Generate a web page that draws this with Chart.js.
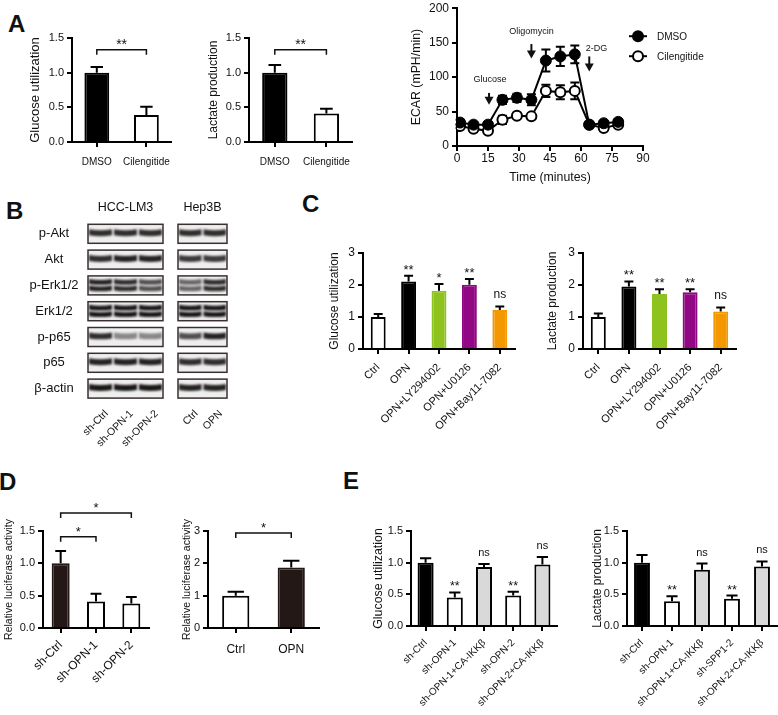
<!DOCTYPE html>
<html>
<head>
<meta charset="utf-8">
<script src="https://cdn.jsdelivr.net/npm/chart.js@4.4.1/dist/chart.umd.min.js"></script>
<style>
  html, body { margin: 0; padding: 0; background: #fff; }
  body { position: relative; width: 778px; height: 715px; overflow: hidden; font-family: 'Liberation Sans', Arial, sans-serif; color: #111; }
  canvas { position: absolute; }
  .tag { position: absolute; font-size: 24px; font-weight: bold; line-height: 1; }
</style>
</head>
<body>
<div class="tag" style="left:8px;top:12px">A</div>
<div class="tag" style="left:6px;top:199px">B</div>
<div class="tag" style="left:302px;top:192px">C</div>
<div class="tag" style="left:-1px;top:470px">D</div>
<div class="tag" style="left:343px;top:469px">E</div>

<canvas id="glucoseA" width="158" height="152" style="left:22px;top:20px"></canvas>
<canvas id="lactateA" width="161" height="152" style="left:199px;top:20px"></canvas>
<canvas id="ecar" width="378" height="192" style="left:400px;top:-2px"></canvas>
<canvas id="blot" width="300" height="280" style="left:0;top:190px"></canvas>
<canvas id="glucoseC" width="202" height="200" style="left:318px;top:240px"></canvas>
<canvas id="lactateC" width="205" height="200" style="left:536px;top:240px"></canvas>
<canvas id="lucD1" width="154" height="200" style="left:0;top:490px"></canvas>
<canvas id="lucD2" width="152" height="200" style="left:172px;top:490px"></canvas>
<canvas id="glucoseE" width="200" height="215" style="left:362px;top:500px"></canvas>
<canvas id="lactateE" width="196" height="215" style="left:582px;top:500px"></canvas>

<script>
// panel A
const aGroups = ['DMSO', 'Cilengitide'];
const glucoseA = [1.0, 0.39];
const glucoseAErr = [0.08, 0.12];
const lactateA = [1.0, 0.41];
const lactateAErr = [0.11, 0.07];

const ecarTime = [1.5, 8, 15, 22, 29, 36, 43, 50, 57, 64, 71, 78];
const ecarDmso = [34, 31, 31, 67, 70, 67, 124, 130, 133, 31, 33, 35];
const ecarDmsoErr = [4, 3, 3, 6, 6, 8, 16, 14, 13, 3, 3, 3];
const ecarCil = [29, 25, 22, 38, 44, 43, 80, 78, 80, 31, 26, 31];
const ecarCilErr = [3, 3, 3, 6, 3, 3, 9, 10, 12, 3, 3, 3];

// panel B
const blotRows = ['p-Akt', 'Akt', 'p-Erk1/2', 'Erk1/2', 'p-p65', 'p65', 'β-actin'];
const blotLanes = ['sh-Ctrl', 'sh-OPN-1', 'sh-OPN-2', 'Ctrl', 'OPN'];
const bandLevel = [
    [0.85, 0.85, 0.85, 0.85, 0.85],
    [0.85, 0.9, 0.9, 0.8, 0.8],
    [0.9, 0.85, 0.7, 0.6, 0.85],
    [0.95, 0.95, 0.95, 0.95, 0.95],
    [0.85, 0.45, 0.45, 0.7, 0.9],
    [0.9, 0.9, 0.9, 0.85, 0.85],
    [0.95, 0.95, 0.95, 0.9, 0.9]
];
const doubleBand = [false, false, true, true, false, false, false];

// panel C
const cGroups = ['Ctrl', 'OPN', 'OPN+LY294002', 'OPN+U0126', 'OPN+Bay11-7082'];
const glucoseC = [1.0, 2.11, 1.82, 2.01, 1.22];
const glucoseCErr = [0.09, 0.18, 0.21, 0.18, 0.11];
const lactateC = [1.0, 1.95, 1.72, 1.77, 1.17];
const lactateCErr = [0.11, 0.16, 0.15, 0.1, 0.13];
const sigCGlucose = ['', '**', '*', '**', 'ns'];
const sigCLactate = ['', '**', '**', '**', 'ns'];

// panel D
const dGroups1 = ['sh-Ctrl', 'sh-OPN-1', 'sh-OPN-2'];
const lucD1 = [1.0, 0.41, 0.38];
const lucD1Err = [0.19, 0.12, 0.1];
const dGroups2 = ['Ctrl', 'OPN'];
const lucD2 = [1.0, 1.87];
const lucD2Err = [0.12, 0.21];

// panel E
const eGroups1 = ['sh-Ctrl', 'sh-OPN-1', 'sh-OPN-1+CA-IKKβ', 'sh-OPN-2', 'sh-OPN-2+CA-IKKβ'];
const glucoseE = [1.0, 0.45, 0.93, 0.48, 0.97];
const glucoseEErr = [0.07, 0.08, 0.05, 0.06, 0.12];
const eGroups2 = ['sh-Ctrl', 'sh-OPN-1', 'sh-OPN-1+CA-IKKβ', 'sh-SPP1-2', 'sh-OPN-2+CA-IKKβ'];
const lactateE = [1.0, 0.39, 0.89, 0.43, 0.94];
const lactateEErr = [0.12, 0.08, 0.095, 0.05, 0.08];
const sigE = ['', '**', 'ns', '**', 'ns'];

const FONT = "'Liberation Sans', Arial, sans-serif";
Chart.defaults.font.family = FONT;
Chart.defaults.color = '#111';

// error bars: only up for bars, both ways for the ECAR curve
function drawErrors(chart, both) {
    const ctx = chart.ctx;
    const y = chart.scales.y;
    chart.data.datasets.forEach((ds, i) => {
        if (!ds.errors) return;
        const meta = chart.getDatasetMeta(i);
        ctx.save();
        ctx.strokeStyle = '#000';
        ctx.lineWidth = 2;
        meta.data.forEach((el, j) => {
            const v = typeof ds.data[j] === 'object' ? ds.data[j].y : ds.data[j];
            const e = ds.errors[j];
            const hi = y.getPixelForValue(v + e);
            const lo = y.getPixelForValue(both ? v - e : v);
            const cap = both ? 4.5 : el.width * (ds.capRatio || 0.6) / 2;
            ctx.beginPath();
            ctx.moveTo(el.x, lo);
            ctx.lineTo(el.x, hi);
            ctx.moveTo(el.x - cap, hi);
            ctx.lineTo(el.x + cap, hi);
            if (both) {
                ctx.moveTo(el.x - cap, lo);
                ctx.lineTo(el.x + cap, lo);
            }
            ctx.stroke();
        });
        ctx.restore();
    });
}

const errorBars = {
    id: 'errorBars',
    beforeDatasetsDraw(chart) { if (chart.config.type === 'line') drawErrors(chart, true); },
    afterDatasetsDraw(chart) { if (chart.config.type === 'bar') drawErrors(chart, false); }
};

// stars, ns and brackets
const sigMarks = {
    id: 'sigMarks',
    afterDatasetsDraw(chart) {
        const ds = chart.data.datasets[0];
        if (!ds.sig && !ds.brackets) return;
        const ctx = chart.ctx;
        const y = chart.scales.y;
        const bars = chart.getDatasetMeta(0).data;
        ctx.save();
        ctx.fillStyle = '#111';
        ctx.strokeStyle = '#111';
        ctx.lineWidth = 1.5;
        ctx.textAlign = 'center';
        ctx.textBaseline = 'alphabetic';
        (ds.sig || []).forEach((t, j) => {
            if (!t) return;
            const top = y.getPixelForValue(ds.data[j] + ds.errors[j]);
            const star = t.includes('*');
            ctx.font = star ? ds.sigFont : ds.nsFont;
            ctx.fillText(t, bars[j].x, top - (star ? 2 : 8));
        });
        ctx.font = ds.sigFont;
        (ds.brackets || []).forEach(b => {
            const x1 = bars[b.from].x;
            const x2 = bars[b.to].x;
            const yy = y.getPixelForValue(b.level);
            ctx.beginPath();
            ctx.moveTo(x1, yy + 5);
            ctx.lineTo(x1, yy);
            ctx.lineTo(x2, yy);
            ctx.lineTo(x2, yy + 5);
            ctx.stroke();
            ctx.fillText(b.text, (x1 + x2) / 2, yy - 1);
        });
        ctx.restore();
    }
};

function axisY(max, step, decimals, title, titleSize, titlePad, width, tickSize) {
    return {
        min: 0,
        max: max,
        border: { color: '#000', width: 2 },
        grid: { drawOnChartArea: false, color: '#000', lineWidth: 2, tickLength: 5 },
        ticks: { stepSize: step, font: { size: tickSize || 11 }, padding: 3, callback: v => v.toFixed(decimals) },
        title: { display: true, text: title, font: { size: titleSize }, padding: { top: titlePad, bottom: 0 } },
        afterFit: s => { s.width = width; }
    };
}

function axisX(rot, size, pad, height) {
    return {
        border: { color: '#000', width: 2 },
        grid: { drawOnChartArea: false, offset: false, color: '#000', lineWidth: 2, tickLength: 5 },
        ticks: { font: { size: size }, minRotation: rot, maxRotation: rot, autoSkip: false, padding: pad },
        afterFit: s => { s.height = height; }
    };
}

function barChart(id, labels, values, errors, fills, edges, cfg) {
    return new Chart(document.getElementById(id), {
        type: 'bar',
        data: {
            labels: labels,
            datasets: [{
                data: values,
                errors: errors,
                sig: cfg.sig,
                brackets: cfg.brackets,
                sigFont: cfg.sigFont,
                nsFont: cfg.nsFont || cfg.sigFont,
                capRatio: cfg.cap,
                backgroundColor: fills,
                borderColor: edges,
                borderWidth: 2,
                barPercentage: cfg.bar,
                categoryPercentage: 1
            }]
        },
        options: {
            responsive: false,
            animation: false,
            layout: { padding: { top: cfg.top, right: cfg.right, left: 0, bottom: 0 } },
            plugins: { legend: { display: false }, tooltip: { enabled: false } },
            scales: { x: cfg.x, y: cfg.y }
        },
        plugins: [errorBars, sigMarks]
    });
}

// A
barChart('glucoseA', aGroups, glucoseA, glucoseAErr, ['#000', '#fff'], ['#000', '#000'], {
    bar: 0.5, cap: 0.5, top: 18, right: 5,
    x: axisX(0, 10, 9, 30),
    y: axisY(1.5, 0.5, 1, 'Glucose utilization', 13, 6, 50),
    brackets: [{ from: 0, to: 1, level: 1.33, text: '**' }],
    sigFont: '14px ' + FONT
});
barChart('lactateA', aGroups, lactateA, lactateAErr, ['#000', '#fff'], ['#000', '#000'], {
    bar: 0.49, cap: 0.5, top: 18, right: 5,
    x: axisX(0, 10, 9, 30),
    y: axisY(1.5, 0.5, 1, 'Lactate production', 12, 7, 50),
    brackets: [{ from: 0, to: 1, level: 1.33, text: '**' }],
    sigFont: '14px ' + FONT
});

const injections = [
    { name: 'Glucose', t: 15.5, from: 77, to: 60, labelT: 16, labelY: 96 },
    { name: 'Oligomycin', t: 36, from: 148, to: 127, labelT: 36, labelY: 166 },
    { name: '2-DG', t: 64, from: 130, to: 108, labelT: 67.5, labelY: 141 }
];

const ecarNotes = {
    id: 'ecarNotes',
    afterDatasetsDraw(chart) {
        const ctx = chart.ctx;
        const x = chart.scales.x;
        const y = chart.scales.y;
        const area = chart.chartArea;
        ctx.save();
        ctx.fillStyle = '#111';
        ctx.strokeStyle = '#111';
        ctx.lineWidth = 2;
        ctx.textAlign = 'center';
        ctx.textBaseline = 'middle';
        ctx.font = '9px ' + FONT;
        injections.forEach(inj => {
            const px = x.getPixelForValue(inj.t);
            const y1 = y.getPixelForValue(inj.from);
            const y2 = y.getPixelForValue(inj.to);
            ctx.beginPath();
            ctx.moveTo(px, y1);
            ctx.lineTo(px, y2 - 6);
            ctx.stroke();
            ctx.beginPath();
            ctx.moveTo(px - 4.5, y2 - 8);
            ctx.lineTo(px + 4.5, y2 - 8);
            ctx.lineTo(px, y2);
            ctx.closePath();
            ctx.fill();
            ctx.fillText(inj.name, x.getPixelForValue(inj.labelT), y.getPixelForValue(inj.labelY));
        });
        // legend
        ctx.font = '10px ' + FONT;
        ctx.textAlign = 'left';
        chart.data.datasets.forEach((ds, i) => {
            const ly = area.top + 28 + i * 20;
            const lx = area.right - 5;
            ctx.strokeStyle = '#000';
            ctx.lineWidth = 2;
            ctx.beginPath();
            ctx.moveTo(lx - 9, ly);
            ctx.lineTo(lx + 9, ly);
            ctx.stroke();
            ctx.beginPath();
            ctx.arc(lx, ly, 5, 0, Math.PI * 2);
            ctx.fillStyle = ds.pointBackgroundColor;
            ctx.fill();
            ctx.stroke();
            ctx.fillStyle = '#111';
            ctx.fillText(ds.label, lx + 19, ly + 1);
        });
        ctx.restore();
    }
};

new Chart(document.getElementById('ecar'), {
    type: 'line',
    data: {
        datasets: [{
            label: 'DMSO',
            data: ecarTime.map((t, i) => ({ x: t, y: ecarDmso[i] })),
            errors: ecarDmsoErr,
            borderColor: '#000',
            borderWidth: 2,
            pointRadius: 5.5,
            pointBackgroundColor: '#000',
            pointBorderColor: '#000',
            pointBorderWidth: 1
        }, {
            label: 'Cilengitide',
            data: ecarTime.map((t, i) => ({ x: t, y: ecarCil[i] })),
            errors: ecarCilErr,
            borderColor: '#000',
            borderWidth: 2,
            pointRadius: 5,
            pointBackgroundColor: '#fff',
            pointBorderColor: '#000',
            pointBorderWidth: 2
        }]
    },
    options: {
        responsive: false,
        animation: false,
        layout: { padding: { top: 8, right: 135, left: 0, bottom: 0 } },
        plugins: { legend: { display: false }, tooltip: { enabled: false } },
        scales: {
            x: {
                type: 'linear',
                min: 0,
                max: 90,
                border: { color: '#000', width: 2 },
                grid: { drawOnChartArea: false, color: '#000', lineWidth: 2, tickLength: 5 },
                ticks: { stepSize: 15, font: { size: 12 }, padding: 0 },
                title: { display: true, text: 'Time (minutes)', font: { size: 12.3 }, padding: { top: 0, bottom: 5.5 } },
                afterFit: s => { s.height = 44; }
            },
            y: {
                min: 0,
                max: 200,
                border: { color: '#000', width: 2 },
                grid: { drawOnChartArea: false, color: '#000', lineWidth: 2, tickLength: 5 },
                ticks: { stepSize: 50, font: { size: 12 }, padding: 3 },
                title: { display: true, text: 'ECAR (mPH/min)', font: { size: 12.3 }, padding: { top: 9.5, bottom: 0 } },
                afterFit: s => { s.width = 57; }
            }
        }
    },
    plugins: [errorBars, ecarNotes]
});

// B: blot picture
const bc = document.getElementById('blot').getContext('2d');
const blotBoxes = [
    { x: 88, w: 75, lanes: [0, 1, 2], name: 'HCC-LM3' },
    { x: 178, w: 49, lanes: [3, 4], name: 'Hep3B' }
];
bc.fillStyle = '#111';
bc.textAlign = 'center';
bc.textBaseline = 'middle';
bc.font = '12.5px ' + FONT;
blotBoxes.forEach(b => bc.fillText(b.name, b.x + b.w / 2, 18));

function band(cx, cy, w, h, level) {
    bc.save();
    bc.filter = 'blur(1px)';
    bc.fillStyle = 'rgba(15,12,12,' + level + ')';
    bc.beginPath();
    bc.moveTo(cx - w / 2, cy - h / 2 - 0.5);
    bc.quadraticCurveTo(cx, cy - h / 2 + 1.5, cx + w / 2, cy - h / 2 - 0.5);
    bc.lineTo(cx + w / 2, cy + h / 2 - 0.5);
    bc.quadraticCurveTo(cx, cy + h / 2 + 1.2, cx - w / 2, cy + h / 2 - 0.5);
    bc.closePath();
    bc.fill();
    bc.restore();
}

const laneX = [];
blotRows.forEach((name, r) => {
    const top = 34.3 + r * 25.8;
    bc.fillStyle = '#111';
    bc.font = '13px ' + FONT;
    bc.fillText(name, 54, top + 9.5);
    blotBoxes.forEach(b => {
        bc.fillStyle = '#eeeeee';
        bc.fillRect(b.x, top, b.w, 19);
        const lw = b.w / b.lanes.length;
        b.lanes.forEach((lane, k) => {
            const cx = b.x + lw * (k + 0.5);
            laneX[lane] = cx;
            const lvl = bandLevel[r][lane];
            if (doubleBand[r]) {
                band(cx, top + 6, lw - 2, 5, lvl);
                band(cx, top + 12.5, lw - 2, 5, lvl);
            } else {
                band(cx, top + 8.5, lw - 2, 6, lvl);
            }
        });
        bc.strokeStyle = '#3a3030';
        bc.lineWidth = 1.5;
        bc.strokeRect(b.x, top, b.w, 19);
    });
});

bc.fillStyle = '#111';
bc.font = '10.5px ' + FONT;
bc.textAlign = 'right';
blotLanes.forEach((name, i) => {
    bc.save();
    bc.translate(laneX[i] + 6, 222);
    bc.rotate(-Math.PI / 4);
    bc.fillText(name, 0, 0);
    bc.restore();
});

// C
const cFills = ['#ffffff', '#000000', '#8dc21f', '#920783', '#f39800'];
const cEdges = ['#000000', '#000000', '#8dc21f', '#920783', '#f39800'];
barChart('glucoseC', cGroups, glucoseC, glucoseCErr, cFills, cEdges, {
    bar: 0.49, cap: 0.6, top: 13, right: 5,
    x: axisX(45, 11, 7, 91),
    y: axisY(3, 1, 0, 'Glucose utilization', 12, 9.8, 45, 12),
    sig: sigCGlucose,
    sigFont: '13px ' + FONT,
    nsFont: '12px ' + FONT
});
barChart('lactateC', cGroups, lactateC, lactateCErr, cFills, cEdges, {
    bar: 0.49, cap: 0.6, top: 13, right: 5,
    x: axisX(45, 11, 7, 91),
    y: axisY(3, 1, 0, 'Lactate production', 12, 9.8, 47, 12),
    sig: sigCLactate,
    sigFont: '13px ' + FONT,
    nsFont: '12px ' + FONT
});

// D
barChart('lucD1', dGroups1, lucD1, lucD1Err, ['#231815', '#fff', '#fff'], ['#231815', '#000', '#000'], {
    bar: 0.51, cap: 0.6, top: 41, right: 5,
    x: axisX(45, 12, 5, 62),
    y: axisY(1.5, 0.5, 1, 'Relative luciferase activity', 10.5, 2.7, 43),
    brackets: [{ from: 0, to: 1, level: 1.41, text: '*' }, { from: 0, to: 2, level: 1.78, text: '*' }],
    sigFont: '13px ' + FONT
});
barChart('lucD2', dGroups2, lucD2, lucD2Err, ['#fff', '#231815'], ['#000', '#231815'], {
    bar: 0.49, cap: 0.6, top: 41, right: 5,
    x: axisX(0, 12, 9, 62),
    y: axisY(3, 1, 0, 'Relative luciferase activity', 10.5, 8.7, 36),
    brackets: [{ from: 0, to: 1, level: 2.94, text: '*' }],
    sigFont: '13px ' + FONT
});

// E
const eFills = ['#000000', '#ffffff', '#d9d9d9', '#ffffff', '#d9d9d9'];
const eEdges = ['#000000', '#000000', '#000000', '#000000', '#000000'];
barChart('glucoseE', eGroups1, glucoseE, glucoseEErr, eFills, eEdges, {
    bar: 0.55, cap: 0.7, top: 31, right: 5,
    x: axisX(45, 10, 6, 89),
    y: axisY(1.5, 0.5, 1, 'Glucose utilization', 12.4, 9.6, 49),
    sig: sigE,
    sigFont: '12.5px ' + FONT,
    nsFont: '11px ' + FONT
});
barChart('lactateE', eGroups2, lactateE, lactateEErr, eFills, eEdges, {
    bar: 0.53, cap: 0.7, top: 31, right: 1,
    x: axisX(45, 10, 6, 89),
    y: axisY(1.5, 0.5, 1, 'Lactate production', 12, 8.8, 45),
    sig: sigE,
    sigFont: '12.5px ' + FONT,
    nsFont: '11px ' + FONT
});
</script>
</body>
</html>
